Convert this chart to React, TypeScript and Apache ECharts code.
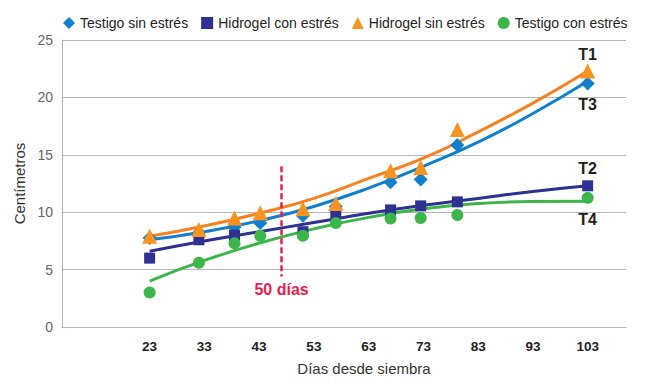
import React, { useEffect, useRef } from "react";
import * as echarts from "echarts";

// ---- data ----
const days = [23, 32, 38.5, 43.2, 51, 57, 67, 72.5, 79.2, 103];
const testigoSin = [7.75, 8.2, 8.7, 9.05, 9.7, 10.5, 12.6, 12.85, 15.85, 21.2];
const hidrogelCon = [6.0, 7.6, 8.0, null, 8.3, 9.9, 10.2, 10.55, 10.9, 12.3];
const hidrogelSin = [7.9, 8.5, 9.5, 9.95, 10.3, 10.75, 13.6, 13.9, 17.2, 22.3];
const testigoCon = [3.0, 5.6, 7.3, 7.95, 7.95, 9.05, 9.45, 9.5, 9.75, 11.25];

// trend lines (read at regular days)
const trendDays = [23, 33, 43, 53, 63, 73, 83, 93, 103];
const trendT1 = [7.9, 8.8, 9.9, 11.2, 12.95, 14.7, 17.0, 19.5, 22.3];
const trendT3 = [7.6, 8.3, 9.25, 10.5, 12.1, 14.0, 16.1, 18.6, 21.4];
const trendT2 = [6.6, 7.5, 8.3, 9.1, 9.9, 10.6, 11.2, 11.8, 12.3];
const trendT4 = [4.0, 5.8, 7.3, 8.55, 9.55, 10.3, 10.75, 10.93, 10.95];

const xTickLabels = [23, 33, 43, 53, 63, 73, 83, 93, 103];
const yMin = 0, yMax = 25, yStep = 5;
const xMin = 7, xMax = 110;

const markerDay = 47.1;
const markerTop = 14;
const markerBottom = 4.4;
const markerText = "50 días";

const names = ["Testigo sin estrés", "Hidrogel con estrés", "Hidrogel sin estrés", "Testigo con estrés"];
const endLabels = ["T3", "T2", "T1", "T4"];

const FONT = "'Liberation Sans', Arial, Helvetica, sans-serif";
const C_BLUE = "#127fcc";
const C_NAVY = "#2d3192";
const C_ORANGE = "#f7931e";
const C_GREEN = "#3cb54a";

function pairs(vals: (number | null)[], lbl: string, pos: string, dist: number) {
  const out: any[] = [];
  vals.forEach((v, i) => {
    if (v === null) return;
    const item: any = { value: [days[i], v] };
    if (i === vals.length - 1) {
      item.label = {
        show: true,
        formatter: lbl,
        position: pos,
        distance: dist,
        color: "#231f20",
        fontSize: 16,
        fontWeight: "bold",
        fontFamily: FONT,
      };
    }
    out.push(item);
  });
  return out;
}

function trend(vals: number[]) {
  return trendDays.map((d, i) => [d, vals[i]]);
}

export default function App() {
  const ref = useRef<HTMLDivElement>(null);
  useEffect(() => {
    if (!ref.current) return;
    const chart = echarts.init(ref.current, undefined, { renderer: "svg" });
    const lineSeries = (name: string, vals: number[], color: string, extra: any = {}) => ({
      name,
      type: "line",
      data: trend(vals),
      smooth: 0.5,
      symbol: "none",
      lineStyle: { color, width: 3 },
      itemStyle: { color },
      z: 2,
      silent: true,
      ...extra,
    });
    chart.setOption({
      animation: false,
      textStyle: { fontFamily: FONT },
      legend: {
        data: [
          { name: names[0], icon: "diamond" },
          { name: names[1], icon: "rect" },
          { name: names[2], icon: "triangle" },
          { name: names[3], icon: "circle" },
        ],
        left: 58,
        top: 11,
        itemWidth: 12,
        itemHeight: 12,
        itemGap: 13,
        textStyle: { fontSize: 14, color: "#231f20", fontFamily: FONT },
      },
      grid: { left: 62, right: 23, top: 40, bottom: 60, containLabel: false },
      xAxis: {
        type: "value",
        min: xMin,
        max: xMax,
        name: "Días desde siembra",
        nameLocation: "middle",
        nameGap: 34,
        nameTextStyle: { fontSize: 15, color: "#333", padding: [0, 0, 0, 40] },
        axisLine: { show: true, lineStyle: { color: "#b5b5b5", width: 1 } },
        axisTick: { show: false },
        splitLine: { show: false },
        axisLabel: {
          customValues: xTickLabels,
          color: "#222",
          fontWeight: "bold",
          fontSize: 13.5,
          margin: 12,
        },
      },
      yAxis: {
        type: "value",
        min: yMin,
        max: yMax,
        interval: yStep,
        name: "Centímetros",
        nameLocation: "middle",
        nameGap: 23,
        nameRotate: 90,
        nameTextStyle: { fontSize: 15, color: "#333" },
        axisLine: { show: true, lineStyle: { color: "#b5b5b5", width: 1 } },
        axisTick: { show: false },
        splitLine: { show: true, lineStyle: { color: "#b5b5b5", width: 1 } },
        axisLabel: { color: "#666", fontSize: 14, margin: 9 },
      },
      series: [
        lineSeries("trend T3", trendT3, C_BLUE),
        lineSeries("trend T2", trendT2, C_NAVY),
        lineSeries("trend T1", trendT1, "#f58220", {
          markLine: {
            silent: true,
            symbol: ["none", "none"],
            lineStyle: { color: "#e91e4f", width: 2.5, type: [6, 3] },
            label: {
              show: true,
              position: "end",
              formatter: markerText,
              color: "#e91e4f",
              fontSize: 16,
              fontWeight: "bold",
              fontFamily: FONT,
              distance: 5,
            },
            data: [[{ coord: [markerDay, markerTop] }, { coord: [markerDay, markerBottom] }]],
          },
        }),
        lineSeries("trend T4", trendT4, C_GREEN),
        {
          name: names[0],
          type: "scatter",
          symbol: "diamond",
          symbolSize: 14,
          itemStyle: { color: C_BLUE, opacity: 1 },
          data: pairs(testigoSin, endLabels[0], "bottom", 6),
          z: 3,
        },
        {
          name: names[1],
          type: "scatter",
          symbol: "rect",
          symbolSize: 11,
          itemStyle: { color: C_NAVY, opacity: 1 },
          data: pairs(hidrogelCon, endLabels[1], "top", 4),
          z: 3,
        },
        {
          name: names[2],
          type: "scatter",
          symbol: "triangle",
          symbolSize: 15,
          itemStyle: { color: C_ORANGE, opacity: 1 },
          data: pairs(hidrogelSin, endLabels[2], "top", 1),
          z: 3,
        },
        {
          name: names[3],
          type: "scatter",
          symbol: "circle",
          symbolSize: 12,
          itemStyle: { color: C_GREEN, opacity: 1 },
          data: pairs(testigoCon, endLabels[3], "bottom", 8),
          z: 3,
        },
      ],
    });
    return () => chart.dispose();
  }, []);
  return (
    <div
      ref={ref}
      style={{ position: "absolute", left: 0, top: 0, width: 649, height: 387, background: "#fff" }}
    />
  );
}
